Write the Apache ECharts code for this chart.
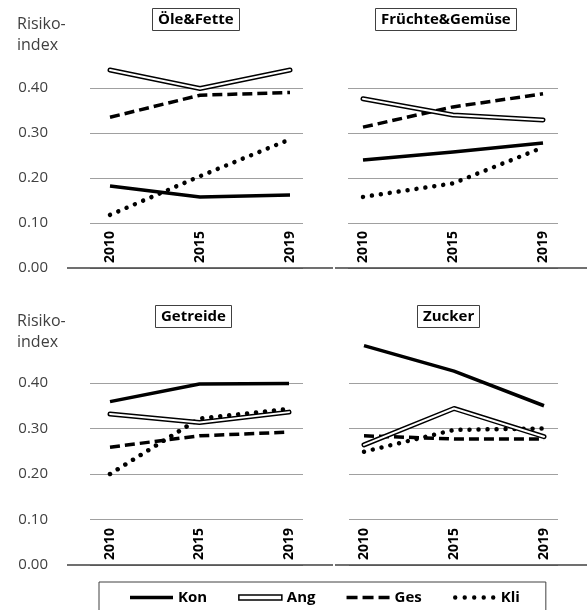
<!DOCTYPE html>
<html><head><meta charset="utf-8">
<script src="https://cdn.jsdelivr.net/npm/echarts@6/dist/echarts.min.js"></script>
<style>html,body{margin:0;padding:0;background:#fff}#c{width:587px;height:610px}</style>
</head><body><div id="c"></div>
<script>
const years = ['2010', '2015', '2019'];
const seriesNames = ['Kon', 'Ang', 'Ges', 'Kli'];
const panelTitles = ['Öle&Fette', 'Früchte&Gemüse', 'Getreide', 'Zucker'];
const yAxisName = 'Risiko-\nindex';

const oeleKon = [0.182, 0.158, 0.162];
const oeleAng = [0.440, 0.399, 0.440];
const oeleGes = [0.335, 0.384, 0.390];
const oeleKli = [0.118, 0.204, 0.286];

const fruechteKon = [0.240, 0.258, 0.278];
const fruechteAng = [0.376, 0.340, 0.329];
const fruechteGes = [0.313, 0.358, 0.387];
const fruechteKli = [0.158, 0.188, 0.268];

const getreideKon = [0.359, 0.398, 0.399];
const getreideAng = [0.332, 0.313, 0.336];
const getreideGes = [0.259, 0.284, 0.292];
const getreideKli = [0.200, 0.322, 0.343];

const zuckerKon = [0.482, 0.426, 0.350];
const zuckerAng = [0.264, 0.344, 0.282];
const zuckerGes = [0.284, 0.277, 0.277];
const zuckerKli = [0.249, 0.297, 0.300];

const FONT = 'Open Sans';

const panels = [
  {title: panelTitles[0], data: [oeleKon, oeleAng, oeleGes, oeleKli], gL: 90, gR: 303, dL: 110, dR: 290, y0: 268, px: 450, yLab: true, tL: 152, tT: 8, base: [67, 333]},
  {title: panelTitles[1], data: [fruechteKon, fruechteAng, fruechteGes, fruechteKli], gL: 348, gR: 558, dL: 363, dR: 543, y0: 268, px: 450, yLab: false, tL: 375, tT: 8, base: [335, 587]},
  {title: panelTitles[2], data: [getreideKon, getreideAng, getreideGes, getreideKli], gL: 90, gR: 303, dL: 110, dR: 289, y0: 565, px: 455, yLab: true, tL: 155, tT: 305, base: [67, 333]},
  {title: panelTitles[3], data: [zuckerKon, zuckerAng, zuckerGes, zuckerKli], gL: 349, gR: 558, dL: 364, dR: 544, y0: 565, px: 455, yLab: false, tL: 417, tT: 305, base: [335, 587]}
];

const grid = [], xAxis = [], yAxis = [], series = [], title = [], graphic = [];

panels.forEach((p, i) => {
  const ga = 2 * i, gb = 2 * i + 1;
  grid.push({left: p.gL, width: p.gR - p.gL, top: p.y0 - 0.4 * p.px, height: 0.4 * p.px});
  grid.push({left: p.dL, width: p.dR - p.dL, top: p.y0 - 0.5 * p.px, height: 0.5 * p.px});
  xAxis.push({type: 'category', gridIndex: ga, data: years, show: false});
  xAxis.push({type: 'category', gridIndex: gb, data: years, boundaryGap: false,
    axisLine: {show: false}, axisTick: {show: false},
    axisLabel: {inside: true, rotate: 90, margin: 5, fontFamily: FONT, fontSize: 14, fontWeight: 'bold', color: '#000'}});
  yAxis.push({type: 'value', gridIndex: ga, min: 0, max: 0.4, interval: 0.1,
    axisLine: {show: false}, axisTick: {show: false},
    splitLine: {show: true, lineStyle: {color: '#a0a0a0', width: 1}},
    axisLabel: {show: p.yLab, formatter: v => v.toFixed(2), margin: p.gL - 48, fontFamily: FONT, fontSize: 15, color: '#404040'}});
  yAxis.push({type: 'value', gridIndex: gb, min: 0, max: 0.5, show: false});

  const [kon, ang, ges, kli] = p.data;
  series.push({name: seriesNames[3], type: 'line', xAxisIndex: gb, yAxisIndex: gb, data: kli, symbol: 'none',
    lineStyle: {color: '#000', width: 4.5, type: [0.01, 9], cap: 'round'}, z: 2});
  series.push({name: seriesNames[2], type: 'line', xAxisIndex: gb, yAxisIndex: gb, data: ges, symbol: 'none',
    lineStyle: {color: '#000', width: 3.5, type: [10, 5]}, z: 3});
  series.push({name: seriesNames[1], type: 'line', xAxisIndex: gb, yAxisIndex: gb, data: ang, symbol: 'none',
    lineStyle: {color: '#000', width: 5, cap: 'round', join: 'round'}, z: 4});
  series.push({name: seriesNames[1] + '-inner', type: 'line', xAxisIndex: gb, yAxisIndex: gb, data: ang, symbol: 'none',
    lineStyle: {color: '#fff', width: 2, cap: 'round', join: 'round'}, z: 5});
  series.push({name: seriesNames[0], type: 'line', xAxisIndex: gb, yAxisIndex: gb, data: kon, symbol: 'none',
    lineStyle: {color: '#000', width: 3.5, join: 'round'}, z: 6});

  title.push({text: p.title, left: p.tL, top: p.tT, padding: [4, 6, 4, 6], borderColor: '#404040', borderWidth: 1,
    textStyle: {fontFamily: FONT, fontSize: 15, fontWeight: 'bold', color: '#000'}});
  if (p.yLab) {
    title.push({text: yAxisName, left: 17, top: p.y0 - 254, padding: 0,
      textStyle: {fontFamily: FONT, fontSize: 16, fontWeight: 'normal', color: '#404040', lineHeight: 21}});
  }
  graphic.push({type: 'line', shape: {x1: p.base[0], y1: p.y0, x2: p.base[1], y2: p.y0},
    style: {stroke: '#404040', lineWidth: 1.5}, z: 10});
});

const kliIcon = 'path://M0,0M43,10' + [2.5, 12, 21.5, 31, 40.5].map(c =>
  `M${c - 2.2},5a2.2,2.2 0 1,0 4.4,0a2.2,2.2 0 1,0 -4.4,0Z`).join('');

const option = {
  animation: false,
  backgroundColor: '#fff',
  grid, xAxis, yAxis, series, title, graphic,
  legend: {
    left: 99, top: 582, orient: 'horizontal',
    padding: [8, 26, 8, 31],
    borderColor: '#404040', borderWidth: 1,
    itemWidth: 43, itemHeight: 10, itemGap: 31,
    symbolKeepAspect: false,
    selectedMode: false,
    textStyle: {fontFamily: FONT, fontSize: 15, fontWeight: 'bold', color: '#000'},
    data: [
      {name: seriesNames[0], icon: 'path://M0,0M43,10M0,3.25L43,3.25L43,6.75L0,6.75Z', itemStyle: {color: '#000', borderWidth: 0}},
      {name: seriesNames[1], icon: 'path://M0,0M43,10M0,2.5L43,2.5L43,7.5L0,7.5Z', itemStyle: {color: '#fff', borderColor: '#000', borderWidth: 1.5}},
      {name: seriesNames[2], icon: 'path://M0,0M43,10M0,3.25L11,3.25L11,6.75L0,6.75ZM16,3.25L27,3.25L27,6.75L16,6.75ZM32,3.25L43,3.25L43,6.75L32,6.75Z', itemStyle: {color: '#000', borderWidth: 0}},
      {name: seriesNames[3], icon: kliIcon, itemStyle: {color: '#000', borderWidth: 0}}
    ]
  }
};

const chart = echarts.init(document.getElementById('c'), null, {renderer: 'canvas'});
chart.setOption(option);
</script>
</body></html>
